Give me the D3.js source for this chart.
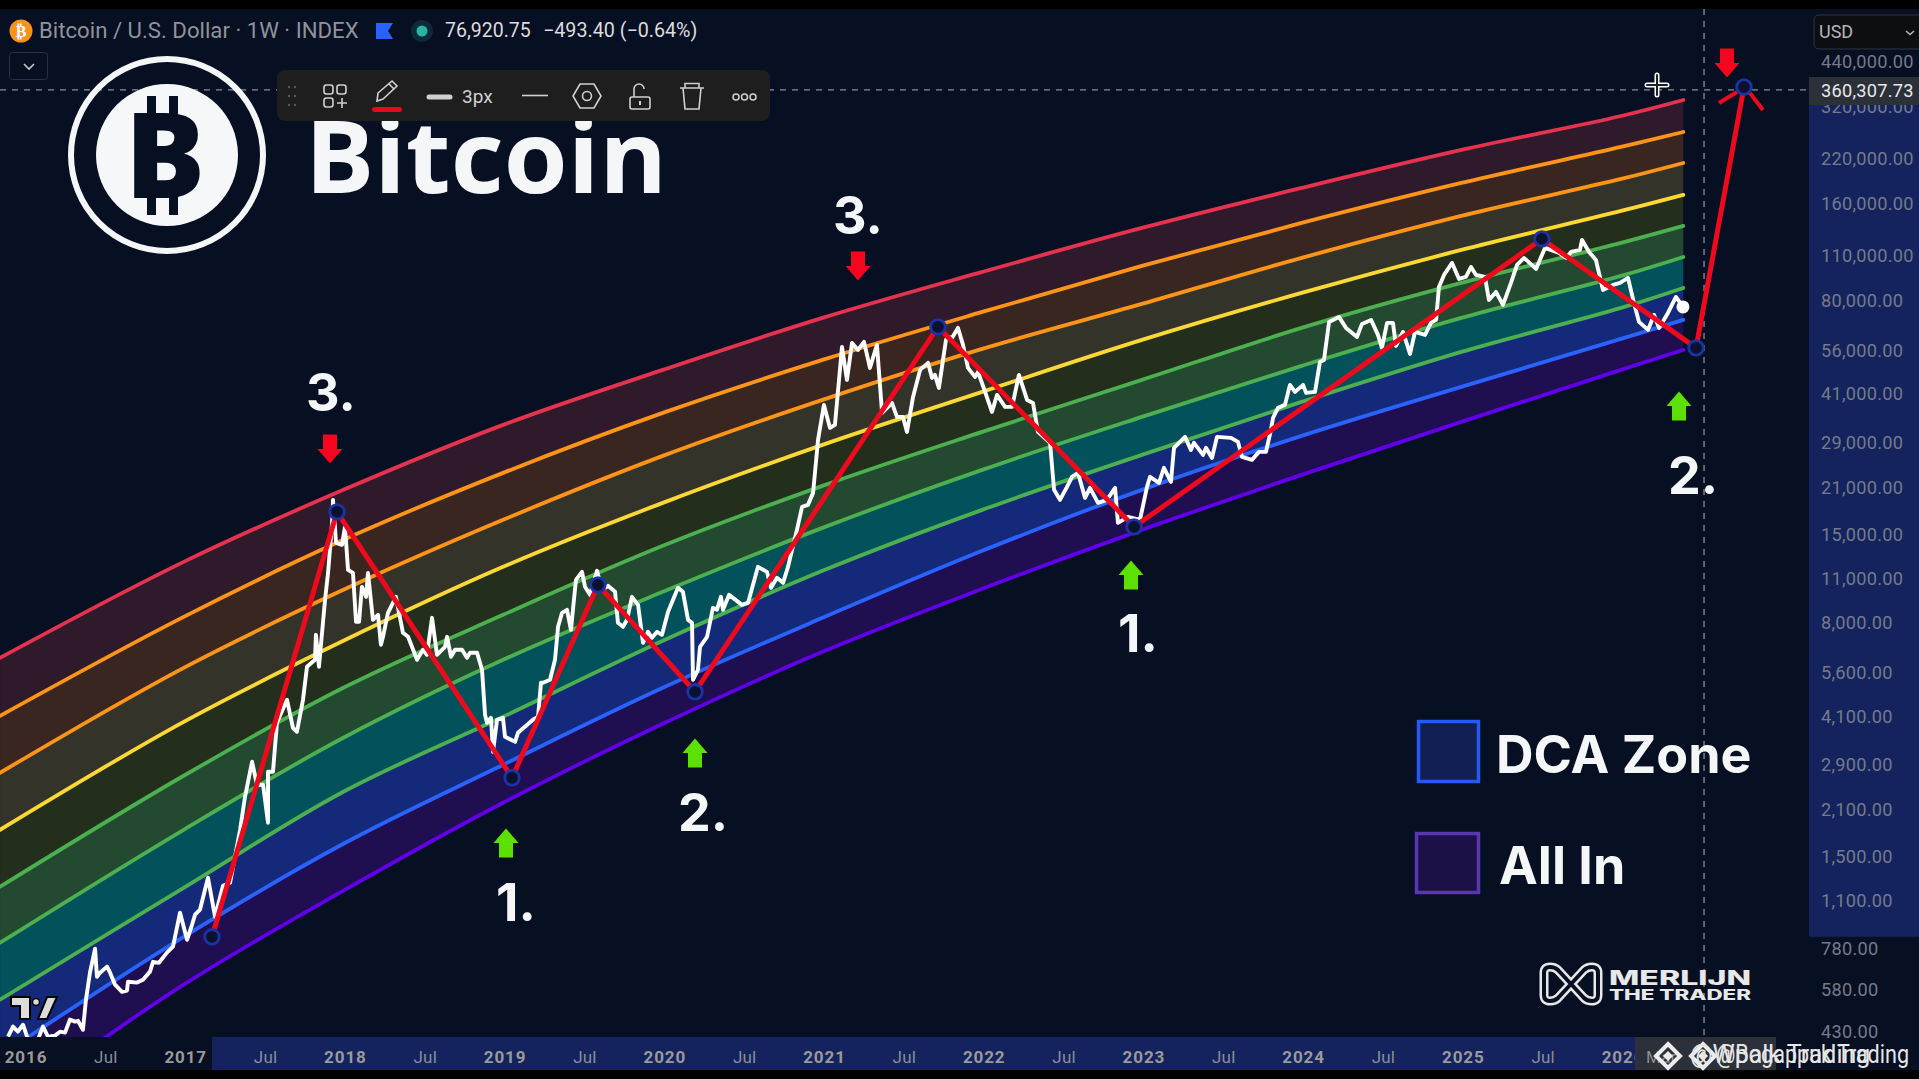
<!DOCTYPE html>
<html><head><meta charset="utf-8"><style>html,body{margin:0;padding:0;background:#000;overflow:hidden}svg{display:block}</style>
<script src="https://cdn.jsdelivr.net/npm/d3@7/dist/d3.min.js"></script></head><body><div id="chart"></div>
<script>
const priceYears=[2015.900,2015.931,2015.962,2015.994,2016.019,2016.050,2016.075,2016.094,2016.119,2016.150,2016.194,2016.225,2016.257,2016.288,2016.319,2016.338,2016.369,2016.388,2016.413,2016.445,2016.457,2016.476,2016.520,2016.539,2016.570,2016.614,2016.645,2016.651,2016.708,2016.745,2016.789,2016.808,2016.845,2016.895,2016.933,2016.977,2017.021,2017.052,2017.071,2017.102,2017.152,2017.196,2017.246,2017.290,2017.353,2017.384,2017.428,2017.459,2017.497,2017.528,2017.528,2017.559,2017.584,2017.647,2017.684,2017.709,2017.747,2017.772,2017.822,2017.828,2017.847,2017.885,2017.904,2017.929,2017.935,2017.954,2017.991,2018.010,2018.029,2018.060,2018.079,2018.098,2018.116,2018.142,2018.154,2018.185,2018.217,2018.235,2018.248,2018.279,2018.329,2018.373,2018.405,2018.461,2018.498,2018.523,2018.555,2018.586,2018.636,2018.649,2018.674,2018.699,2018.743,2018.774,2018.793,2018.837,2018.868,2018.887,2018.899,2018.924,2018.937,2018.962,2018.999,2019.012,2019.075,2019.093,2019.187,2019.219,2019.237,2019.250,2019.294,2019.325,2019.344,2019.369,2019.400,2019.425,2019.456,2019.494,2019.513,2019.544,2019.588,2019.619,2019.657,2019.701,2019.719,2019.751,2019.776,2019.807,2019.845,2019.876,2019.907,2019.932,2019.964,2019.995,2020.033,2020.095,2020.126,2020.158,2020.183,2020.189,2020.220,2020.233,2020.277,2020.314,2020.339,2020.364,2020.377,2020.415,2020.496,2020.534,2020.596,2020.652,2020.678,2020.715,2020.753,2020.784,2020.840,2020.872,2020.909,2020.941,2020.972,2021.009,2021.047,2021.078,2021.122,2021.153,2021.185,2021.222,2021.260,2021.297,2021.341,2021.373,2021.435,2021.466,2021.504,2021.529,2021.567,2021.611,2021.661,2021.686,2021.704,2021.729,2021.773,2021.786,2021.811,2021.848,2021.880,2021.911,2021.955,2021.974,2022.018,2022.061,2022.093,2022.143,2022.187,2022.230,2022.281,2022.318,2022.349,2022.425,2022.450,2022.487,2022.531,2022.562,2022.600,2022.644,2022.675,2022.725,2022.781,2022.832,2022.850,2022.913,2022.988,2023.032,2023.051,2023.107,2023.138,2023.182,2023.201,2023.270,2023.307,2023.326,2023.383,2023.401,2023.439,2023.470,2023.558,2023.602,2023.627,2023.689,2023.733,2023.777,2023.808,2023.821,2023.852,2023.896,2023.927,2023.959,2024.009,2024.028,2024.084,2024.115,2024.140,2024.172,2024.234,2024.278,2024.347,2024.378,2024.435,2024.478,2024.503,2024.535,2024.572,2024.591,2024.635,2024.679,2024.710,2024.773,2024.810,2024.842,2024.860,2024.892,2024.942,2024.986,2025.029,2025.061,2025.092,2025.148,2025.173,2025.217,2025.261,2025.311,2025.349,2025.393,2025.468,2025.524,2025.612,2025.656,2025.687,2025.743,2025.756,2025.800,2025.843,2025.887,2025.950,2025.994,2026.044,2026.081,2026.113,2026.169,2026.207,2026.238,2026.294,2026.344,2026.388];
const priceValues=[416,447,431,453,416,390,387,416,447,416,419,431,428,470,463,466,437,542,657,780,638,657,686,657,603,573,578,616,612,625,662,710,705,758,791,1008,831,925,994,1030,1295,980,1223,1249,1824,2309,2965,2516,2516,1918,2760,2760,3917,4616,3780,3673,4616,5844,6143,7344,5844,9430,11436,16345,19263,14169,13968,15885,11684,11436,8059,8059,10348,9634,11436,8175,8472,6838,7240,8594,9634,7450,7240,6143,6598,6367,8292,6367,6741,7240,6276,6598,6598,6232,6458,6458,5720,4147,3917,4060,3184,4002,4060,3544,3420,3647,4002,4089,5213,5213,5325,6143,7776,8594,8780,7611,10878,11518,10348,9773,11601,10128,10422,9985,8002,7776,8175,9634,9099,6936,7503,7189,7503,7344,8656,10274,9985,8175,8002,5325,5720,6741,7240,8906,8780,9634,8780,9773,9099,9230,11937,11518,10274,11035,10648,11937,15548,18324,18587,20251,29570,37969,32217,32915,57458,45392,59124,56240,59548,49455,58285,35860,38515,34850,34850,31309,40202,48753,51253,46046,47043,42871,60404,61713,61273,65810,58285,49455,46376,48062,41664,36117,40780,37431,37431,47043,39350,38515,31309,28944,20690,19263,21138,22703,23361,19540,20987,18855,19263,20987,16345,17061,16699,21138,22703,21750,24210,21906,27928,30211,27532,28944,26566,27928,26003,30211,29996,29151,26189,25634,27141,27141,31760,34602,37164,37969,43800,41664,43800,41367,41664,51620,52363,68692,71190,65810,61713,67718,69680,62601,57049,68203,68203,57870,63957,54656,63957,62601,68203,69680,88202,96096,104696,93389,94733,101747,96096,94733,80381,85108,77561,90759,103211,108503,100304,116536,112448,108503,113254,114883,123390,113254,106964,86332,89471,90759,94059,78677,68692,64877,72214,65810,73253,82122,76461];
const zigzagYears=[2017.177,2017.960,2019.056,2019.594,2020.202,2021.723,2022.951,2025.505,2026.470,2026.770];
const zigzagValues=[849,17681,2645,10497,4888,66282,15885,124274,57049,368044];
const bandYears=[2015.85,2017,2018,2019,2020,2021,2022,2023,2024,2025,2026,2026.39];
const bandRed=[6232,12371,20690,32915,48753,70683,98177,134432,178891,234675,299185,335407];
const bandOrangeHigh=[4118,8352,14476,23361,35860,52363,73778,102476,139320,185395,239758,266873];
const bandOrangeLow=[2741,5802,10128,16699,26377,39350,56643,78117,108503,146463,190768,213865];
const bandYellow=[1824,3945,7036,11937,18855,28533,41664,60404,84502,114883,151789,170166];
const bandGreenHigh=[1214,2683,5030,8472,13869,21289,31309,45392,65810,90759,120774,136367];
const bandGreenMid=[814,1824,3519,6143,9985,15771,23867,34850,50166,70683,95412,109280];
const bandGreenLow=[542,1205,2393,4089,7036,11601,17935,26566,38792,55442,75916,87574];
const bandBlue=[363,849,1650,2902,5030,8292,13382,20690,30427,43179,60837,69680];
const bandPurple=[243,603,1180,2212,3889,6504,10201,15548,23029,33628,48753,56240];
const bandLineColors=['#e5334f','#ff9418','#ff9418','#fdd835','#4caf50','#4caf50','#4caf50','#2962ff','#6200ea'];
const bandFillColors=['#2f1a2c','#3a2620','#33332a','#232f1c','#234a30','#03515a','#15297a','#1f0f50'];
const yTickValues=[440000,320000,220000,160000,110000,80000,56000,41000,29000,21000,15000,11000,8000,5600,4100,2900,2100,1500,1100,780,580,430];
const xTickYears=[2016,2016.5,2017,2017.5,2018,2018.5,2019,2019.5,2020,2020.5,2021,2021.5,2022,2022.5,2023,2023.5,2024,2024.5,2025,2025.5,2026,2026.24];
const xTickLabels=['2016','Jul','2017','Jul','2018','Jul','2019','Jul','2020','Jul','2021','Jul','2022','Jul','2023','Jul','2024','Jul','2025','Jul','2026','Mar'];
const crosshairPrice=360307.73, crosshairYear=2026.52;

const W=1919,H=1079,bg='#070f22',paneR=1809,paneT=9,paneB=1037,barB=1070;
const x=d3.scaleLinear().domain([2016,2026]).range([24,1621]);
const y=d3.scaleLog().domain([430,440000]).range([1032,62]);
const svg=d3.select('#chart').append('svg').attr('width',W).attr('height',H);
svg.append('rect').attr('width',W).attr('height',H).attr('fill',bg);
const defs=svg.append('defs');
defs.append('clipPath').attr('id','pane').append('rect').attr('x',0).attr('y',paneT).attr('width',paneR).attr('height',paneB-paneT);

// axis highlight from the drawing's extent
const zx=d3.extent(zigzagYears).map(x), zy=d3.extent(zigzagValues).map(y);
const hi='#14235e';
svg.append('rect').attr('x',paneR).attr('y',zy[1]).attr('width',W-paneR).attr('height',zy[0]-zy[1]).attr('fill',hi);
svg.append('rect').attr('x',zx[0]).attr('y',paneB).attr('width',zx[1]-zx[0]).attr('height',barB-paneB).attr('fill',hi);

const pane=svg.append('g').attr('clip-path','url(#pane)');
const bandLines=[bandRed,bandOrangeHigh,bandOrangeLow,bandYellow,bandGreenHigh,bandGreenMid,bandGreenLow,bandBlue,bandPurple];
const curve=d3.curveCatmullRom;
const area=d3.area().x(d=>x(d.t)).y0(d=>y(d.a)).y1(d=>y(d.b)).curve(curve);
bandFillColors.forEach((c,i)=>{
  const rows=bandYears.map((t,k)=>({t,a:bandLines[i+1][k],b:bandLines[i][k]}));
  pane.append('path').attr('d',area(rows)).attr('fill',c);
});
const bandLine=d3.line().x(d=>x(d.t)).y(d=>y(d.v)).curve(curve);
bandLines.forEach((arr,i)=>{
  pane.append('path').attr('d',bandLine(bandYears.map((t,k)=>({t,v:arr[k]})))).attr('fill','none')
    .attr('stroke',bandLineColors[i]).attr('stroke-width',3.8).attr('stroke-linecap','round');
});
const line=d3.line().x(d=>x(d.t)).y(d=>y(d.v));
const price=priceYears.map((t,i)=>({t,v:priceValues[i]}));
pane.append('path').attr('d',line(price)).attr('fill','none').attr('stroke','#fff').attr('stroke-width',3.9).attr('stroke-linejoin','round');
const last=price[price.length-1];
pane.append('circle').attr('cx',x(last.t)).attr('cy',y(last.v)).attr('r',6.5).attr('fill','#fff');

// crosshair
const ch=svg.append('g').attr('stroke','#8b909c').attr('stroke-width',1.3).attr('stroke-dasharray','6 6');
ch.append('line').attr('x1',0).attr('x2',paneR).attr('y1',y(crosshairPrice)).attr('y2',y(crosshairPrice));
ch.append('line').attr('x1',x(crosshairYear)).attr('x2',x(crosshairYear)).attr('y1',paneT).attr('y2',barB);

// Bitcoin logo
const logo=svg.append('g');
logo.append('circle').attr('cx',167).attr('cy',155).attr('r',96).attr('fill','none').attr('stroke','#f4f6f8').attr('stroke-width',6);
logo.append('circle').attr('cx',167).attr('cy',155).attr('r',71).attr('fill','#f6f7f8');
logo.selectAll('rect.bar').data([[147,96],[169,96],[147,193],[169,193]]).join('rect').attr('x',d=>d[0]).attr('y',d=>d[1]).attr('width',9).attr('height',22).attr('fill',bg);
logo.append('text').attr('x',125).attr('y',198).attr('font-family','Open Sans').attr('font-weight',800).attr('font-size',119).attr('fill',bg).text('B');
logo.append('text').attr('x',305).attr('y',193).attr('font-family','Open Sans').attr('font-weight',700).attr('font-size',100).attr('fill','#f4f6f8').attr('textLength',362).attr('lengthAdjust','spacingAndGlyphs').text('Bitcoin');

// zigzag drawing
const zig=zigzagYears.map((t,i)=>({t,v:zigzagValues[i]}));
const red='#ee0a1c';
svg.append('path').attr('d',line(zig)).attr('fill','none').attr('stroke',red).attr('stroke-width',5).attr('stroke-linejoin','miter');
const tip=zig[zig.length-1];
const tipX=x(tip.t),tipY=y(tip.v);
[[-25,16,-7,5],[6,6,19,23]].forEach(a=>svg.append('line').attr('x1',tipX+a[0]).attr('y1',tipY+a[1]).attr('x2',tipX+a[2]).attr('y2',tipY+a[3]).attr('stroke',red).attr('stroke-width',4));
svg.selectAll('circle.z').data(zig).join('circle').attr('cx',d=>x(d.t)).attr('cy',d=>y(d.v)).attr('r',7.3).attr('fill','#0a1230').attr('stroke','#1c33a6').attr('stroke-width',2.8);

// annotation arrows
function arrow(cx,cy,up,c){
  const s=up?1:-1,hw=12.5,sw=7,hh=14.5,a=14.5;
  const pts=[[0,-a],[hw,-a+hh],[sw,-a+hh],[sw,a],[-sw,a],[-sw,-a+hh],[-hw,-a+hh]];
  svg.append('path').attr('d','M'+pts.map(p=>[cx+p[0],cy+s*p[1]].join(',')).join('L')+'Z').attr('fill',c);
}
[[506,843],[695,753],[1131,575],[1679,406]].forEach(p=>arrow(p[0],p[1],true,'#5ce000'));
[[330,449],[858,266],[1727,63]].forEach(p=>arrow(p[0],p[1],false,'#f5051e'));
const big=(t,xx,yy,fs,anchor)=>svg.append('text').attr('x',xx).attr('y',yy).attr('font-family','Inter').attr('font-weight',700).attr('font-size',fs).attr('text-anchor',anchor||'middle').attr('fill','#f5f6f7').text(t);
[['3.',331,411],['3.',858,234],['1.',516,921],['2.',703,831],['1.',1138,652],['2.',1693,494]].forEach(a=>big(a[0],a[1],a[2],52));

// legend
svg.append('rect').attr('x',1418.5).attr('y',721.5).attr('width',60).attr('height',60).attr('fill','#111f55').attr('stroke','#2459f5').attr('stroke-width',3.5);
svg.append('rect').attr('x',1416.5).attr('y',833.5).attr('width',62).attr('height',59).attr('fill','#1c1146').attr('stroke','#5a35b5').attr('stroke-width',3.5);
big('DCA Zone',1496,773,52,'start');
big('All In',1499,884,52,'start');

// Merlijn logo
const mPath='M1571,984L1558,970Q1555,967 1550,967Q1544,967 1544,973L1544,995Q1544,1001 1550,1001Q1555,1001 1558,998L1584,970Q1587,967 1592,967Q1598,967 1598,973L1598,995Q1598,1001 1592,1001Q1587,1001 1584,998Z';
svg.append('path').attr('d',mPath).attr('fill','none').attr('stroke','#e8e8e8').attr('stroke-width',9).attr('stroke-linejoin','round');
svg.append('path').attr('d',mPath).attr('fill','none').attr('stroke',bg).attr('stroke-width',4).attr('stroke-linejoin','round');
const mt=(t,b,fs)=>svg.append('text').attr('x',1609).attr('y',b).attr('font-family','Inter').attr('font-weight',800).attr('font-size',fs).attr('fill','#e8e8e8').attr('textLength',142).attr('lengthAdjust','spacingAndGlyphs').text(t);
mt('MERLIJN',985,20);mt('THE TRADER',1000,14);

// TradingView mark
svg.append('path').attr('d','M11,997H30V1019H20V1006H11ZM38,1019L47,997H57L47,1019Z').attr('fill','#dcdcdc').attr('stroke','#000').attr('stroke-width',2);
svg.append('circle').attr('cx',36).attr('cy',1002).attr('r',3.5).attr('fill','#dcdcdc').attr('stroke','#000').attr('stroke-width',1.5);

// y axis
const yAxis=svg.append('g').attr('transform','translate(1821,0)').call(d3.axisRight(y).tickValues(yTickValues).tickFormat(d3.format(',.2f')).tickSize(0).tickPadding(0));
yAxis.select('.domain').remove();
yAxis.selectAll('text').attr('font-family','Roboto').attr('font-size',18.2).attr('fill','#747a89').attr('letter-spacing',0.25);
// watermark box sits under the axis text
const wmFill='#2c3039';
svg.append('rect').attr('x',1635).attr('y',paneB).attr('width',141).attr('height',barB-paneB).attr('fill',wmFill);
// x axis
const xAxis=svg.append('g').attr('transform',`translate(0,${paneB})`).call(d3.axisBottom(x).tickValues(xTickYears).tickFormat((d,i)=>xTickLabels[i]).tickSize(0).tickPadding(14));
xAxis.select('.domain').remove();
xAxis.selectAll('text').attr('dx',1.5).attr('font-family','Roboto').attr('font-size',17).attr('fill',(d,i)=>xTickLabels[i]==='Jul'||xTickLabels[i]==='Mar'?'#8a8d96':'#9a9a9a').attr('font-weight',(d,i)=>/^\d/.test(xTickLabels[i])?700:400).attr('letter-spacing',(d,i)=>/^\d/.test(xTickLabels[i])?0.9:0.2);
svg.append('rect').attr('x',1635).attr('y',paneB).attr('width',10).attr('height',barB-paneB).attr('fill',wmFill);

// crosshair price label, USD box
svg.append('rect').attr('x',paneR).attr('y',77).attr('width',W-paneR).attr('height',28).attr('fill','#2b3039');
svg.append('text').attr('x',1821).attr('y',97).attr('font-family','Roboto').attr('font-size',18.2).attr('letter-spacing',0.25).attr('fill','#e8e8ea').text(d3.format(',.2f')(crosshairPrice));
svg.append('rect').attr('x',1814).attr('y',15).attr('width',112).attr('height',34).attr('rx',5).attr('fill','#0d0e12').attr('stroke','#30343f');
svg.append('text').attr('x',1819).attr('y',38).attr('font-family','Roboto').attr('font-size',18).attr('fill','#b4b6bc').text('USD');
svg.append('path').attr('d','M1906,31l4,3.5l4,-3.5').attr('fill','none').attr('stroke','#b4b6bc').attr('stroke-width',1.6);

// cursor
const cur=[[1657,75,1657,95],[1647,85,1667,85]];
cur.forEach(a=>svg.append('line').attr('x1',a[0]).attr('y1',a[1]).attr('x2',a[2]).attr('y2',a[3]).attr('stroke','#fff').attr('stroke-width',5).attr('stroke-linecap','round'));
cur.forEach(a=>svg.append('line').attr('x1',a[0]).attr('y1',a[1]).attr('x2',a[2]).attr('y2',a[3]).attr('stroke','#1a1f2c').attr('stroke-width',2).attr('stroke-linecap','round'));

// header
const txt=(t,xx,yy,fs,c,fam,w)=>svg.append('text').attr('x',xx).attr('y',yy).attr('font-family',fam||'Roboto').attr('font-size',fs).attr('fill',c).attr('font-weight',w||400).text(t);
svg.append('circle').attr('cx',21).attr('cy',31).attr('r',11.5).attr('fill','#f7931a');
txt('₿',21,37,16,'#fff','DejaVu Sans',700).attr('text-anchor','middle');
txt('Bitcoin / U.S. Dollar · 1W · INDEX',39,38,22.2,'#90939b');
svg.append('path').attr('d','M376,23H393L388,31L393,39H376Z').attr('fill','#2962ff');
svg.append('circle').attr('cx',422).attr('cy',31).attr('r',11).attr('fill','#0c2a38');
svg.append('circle').attr('cx',422).attr('cy',31).attr('r',5.5).attr('fill','#2ab3a3');
txt('76,920.75',445,37,19.5,'#dcdcde');
txt('−493.40 (−0.64%)',543,37,19.7,'#dcdcde');
svg.append('rect').attr('x',9.5).attr('y',52.5).attr('width',38).attr('height',27).attr('rx',3).attr('fill','none').attr('stroke','#2a3142');
svg.append('path').attr('d','M24,64l5,5l5,-5').attr('fill','none').attr('stroke','#c8c8cc').attr('stroke-width',1.6);

// drawing toolbar
const tb=svg.append('g');
tb.append('rect').attr('x',277).attr('y',70).attr('width',493).attr('height',51).attr('rx',8).attr('fill','#1e1e1f');
const ic='#d0d0d2';
[[289,87],[295,87],[289,96],[295,96],[289,105],[295,105]].forEach(p=>tb.append('circle').attr('cx',p[0]).attr('cy',p[1]).attr('r',1.2).attr('fill','#5a5a5c'));
[[324,85],[337,85],[324,98]].forEach(p=>tb.append('rect').attr('x',p[0]).attr('y',p[1]).attr('width',9).attr('height',9).attr('rx',2.5).attr('fill','none').attr('stroke',ic).attr('stroke-width',1.6));
tb.append('path').attr('d','M337,103h10M342,98v10').attr('stroke',ic).attr('stroke-width',1.6);
tb.append('path').attr('d','M378,93L392,81L397,86L383,99L377,101ZM389,84L394,89').attr('fill','none').attr('stroke',ic).attr('stroke-width',1.6);
tb.append('rect').attr('x',372).attr('y',107).attr('width',30).attr('height',5).attr('rx',2.5).attr('fill','#e8071c');
tb.append('line').attr('x1',429).attr('x2',450).attr('y1',97).attr('y2',97).attr('stroke',ic).attr('stroke-width',5).attr('stroke-linecap','round');
txt('3px',462,103,19,ic);
tb.append('line').attr('x1',522).attr('x2',548).attr('y1',95.5).attr('y2',95.5).attr('stroke',ic).attr('stroke-width',1.6);
tb.append('path').attr('d','M580,84H594L601,96L594,108H580L573,96Z').attr('fill','none').attr('stroke',ic).attr('stroke-width',1.6);
tb.append('circle').attr('cx',587).attr('cy',96).attr('r',4.5).attr('fill','none').attr('stroke',ic).attr('stroke-width',1.6);
tb.append('rect').attr('x',630).attr('y',97).attr('width',20).attr('height',12).attr('rx',2).attr('fill','none').attr('stroke',ic).attr('stroke-width',1.6);
tb.append('path').attr('d','M634,97V89a5,5 0 0 1 10,0').attr('fill','none').attr('stroke',ic).attr('stroke-width',1.6);
tb.append('line').attr('x1',640).attr('x2',640).attr('y1',101).attr('y2',105).attr('stroke',ic).attr('stroke-width',2);
tb.append('path').attr('d','M680,88H704M685,88V83.5H699V88M683,88L685,109H699L701,88').attr('fill','none').attr('stroke',ic).attr('stroke-width',1.6);
[736,744.5,753].forEach(cx=>tb.append('circle').attr('cx',cx).attr('cy',97).attr('r',3).attr('fill','none').attr('stroke',ic).attr('stroke-width',1.5));

// bars and watermark
svg.append('rect').attr('width',W).attr('height',paneT).attr('fill','#000');
svg.append('rect').attr('y',barB).attr('width',W).attr('height',H-barB).attr('fill','#000');
[1668,1703].forEach(cx=>{
  svg.append('path').attr('d',`M${cx},1044l12,12l-12,12l-12,-12Z`).attr('fill','none').attr('stroke','#ececec').attr('stroke-width',4);
  svg.append('path').attr('d',`M${cx},1051l5,5l-5,5l-5,-5Z`).attr('fill','#ececec');
});
txt('@Wpalk Trading',1690,1063,25,'#e6e6e6');
txt('@Bogappuk Trading',1716,1063,25,'#e6e6e6').attr('textLength',193).attr('lengthAdjust','spacingAndGlyphs');
</script></body></html>
